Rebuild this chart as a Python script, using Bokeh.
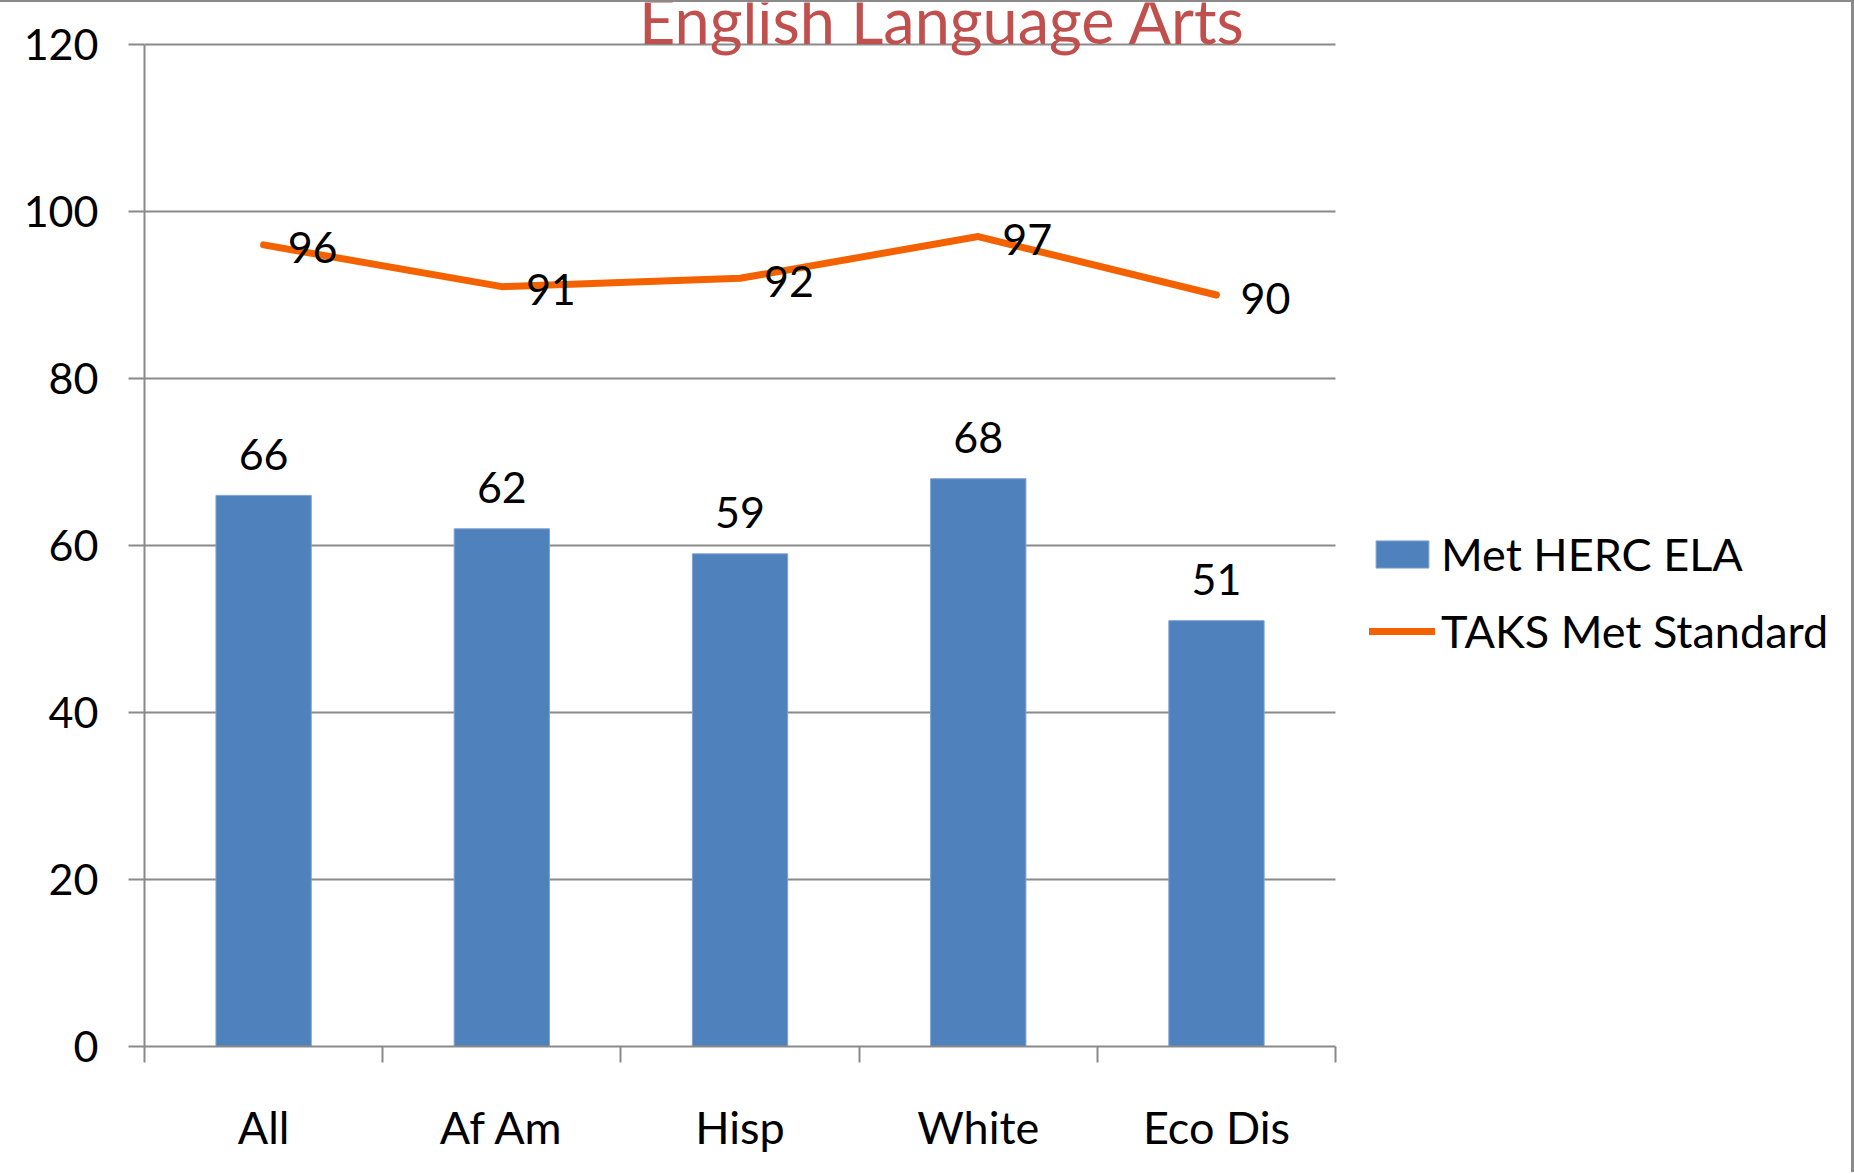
from bokeh.plotting import figure
from bokeh.models import (Range1d, SingleIntervalTicker, FixedTicker, LinearAxis,
                          Legend, LegendItem, Label, ColumnDataSource)
from bokeh.core.properties import value
from bokeh.embed import file_html
from bokeh.resources import INLINE

categories = ["All", "Af Am", "Hisp", "White", "Eco Dis"]
herc_ela = [66, 62, 59, 68, 51]
taks_met = [96, 91, 92, 97, 90]
y_max = 120
y_ticks_interval = 20
title_text = "English Language Arts"
series_names = ["Met HERC ELA", "TAKS Met Standard"]

FONT = "Lato"
GRAY = "#8a8a8a"
BAR = "#4F81BD"
LINE = "#F46200"

n = len(categories)
centers = [i + 0.5 for i in range(n)]
boundaries = [float(i) for i in range(n + 1)]

# layout geometry (pixels)
W, H = 1854, 1172
LEFT, BOTTOM = 144, 128
frame_h = H - BOTTOM            # frame spans canvas top .. y=0 line
plot_h = frame_h - 42           # height used by 0..120
frame_w = W - 3 - LEFT
plot_w = 1189                   # width used by the categories

src = ColumnDataSource(dict(
    x=centers, cat=categories, herc=herc_ela, taks=taks_met,
    herc_lbl=[str(v) for v in herc_ela], taks_lbl=[str(v) for v in taks_met],
))

p = figure(width=W, height=H,
           x_range=Range1d(0, n * frame_w / plot_w),
           y_range=Range1d(0, y_max * frame_h / plot_h),
           output_backend="svg", toolbar_location=None,
           x_axis_location=None, y_axis_location="left",
           min_border_left=LEFT, min_border_right=0, min_border_top=0, min_border_bottom=BOTTOM)
p.styles = {"border-top": "2px solid #8a8a8a", "border-right": "3px solid #8a8a8a", "box-sizing": "border-box"}
p.outline_line_color = None
p.background_fill_color = "white"
p.border_fill_color = "white"

# y axis
ya = p.yaxis[0]
ya.ticker = SingleIntervalTicker(interval=y_ticks_interval, num_minor_ticks=0)
ya.bounds = (0, y_max)
ya.axis_line_color = GRAY
ya.axis_line_width = 2
ya.major_tick_line_color = GRAY
ya.major_tick_line_width = 2
ya.major_tick_out = 16
ya.major_tick_in = 0
ya.minor_tick_line_color = None
ya.major_label_standoff = 30
ya.major_label_text_font = FONT
ya.major_label_text_font_size = "43px"
ya.major_label_text_color = "black"

p.xgrid.grid_line_color = None
p.ygrid.grid_line_color = GRAY
p.ygrid.grid_line_width = 2
p.ygrid.ticker = SingleIntervalTicker(interval=y_ticks_interval, num_minor_ticks=0)
p.ygrid.bounds = (0, y_max)
p.ygrid.cross_bounds = (0, n)

# x axis: labels at category centres, tick marks at category boundaries
xa = LinearAxis(ticker=FixedTicker(ticks=centers, minor_ticks=boundaries),
                major_label_overrides={c: lab for c, lab in zip(centers, categories)})
xa.bounds = (0, n)
xa.axis_line_color = GRAY
xa.axis_line_width = 2
xa.major_tick_line_color = None
xa.major_tick_out = 16
xa.major_tick_in = 0
xa.minor_tick_line_color = GRAY
xa.minor_tick_line_width = 2
xa.minor_tick_out = 16
xa.minor_tick_in = 0
xa.major_label_standoff = 37
xa.major_label_text_font = FONT
xa.major_label_text_font_size = "45px"
xa.major_label_text_color = "black"
p.add_layout(xa, "below")

bars = p.vbar(x="x", top="herc", width=0.4, source=src, fill_color=BAR, line_color="#7fa3d3", line_width=1)
ln = p.line(x="x", y="taks", source=src, line_color=LINE, line_width=7, line_join="round", line_cap="round")

p.text(x="x", y="herc", text="herc_lbl", source=src, text_align="center", text_baseline="middle",
       y_offset=-41, text_font=value(FONT), text_font_size="43px", text_color="black")
p.text(x="x", y="taks", text="taks_lbl", source=src, text_align="center", text_baseline="middle",
       x_offset=49, y_offset=3, text_font=value(FONT), text_font_size="43px", text_color="black")

title = Label(x=798, y=1027, x_units="screen", y_units="screen", text=title_text,
              text_align="center", text_baseline="middle", text_font=FONT,
              text_font_size="63px", text_color="#C0504D")
p.add_layout(title)

legend = Legend(items=[LegendItem(label=series_names[0], renderers=[bars]),
                       LegendItem(label=series_names[1], renderers=[ln])],
                location=(1225, 388), orientation="vertical",
                glyph_width=66, glyph_height=34, label_height=54, spacing=23,
                label_standoff=6, padding=10, margin=0,
                label_text_font=FONT, label_text_font_size="45px", label_text_color="black",
                border_line_color=None, background_fill_alpha=0)
p.add_layout(legend, "center")

open("out.html", "w").write(file_html(p, INLINE))
